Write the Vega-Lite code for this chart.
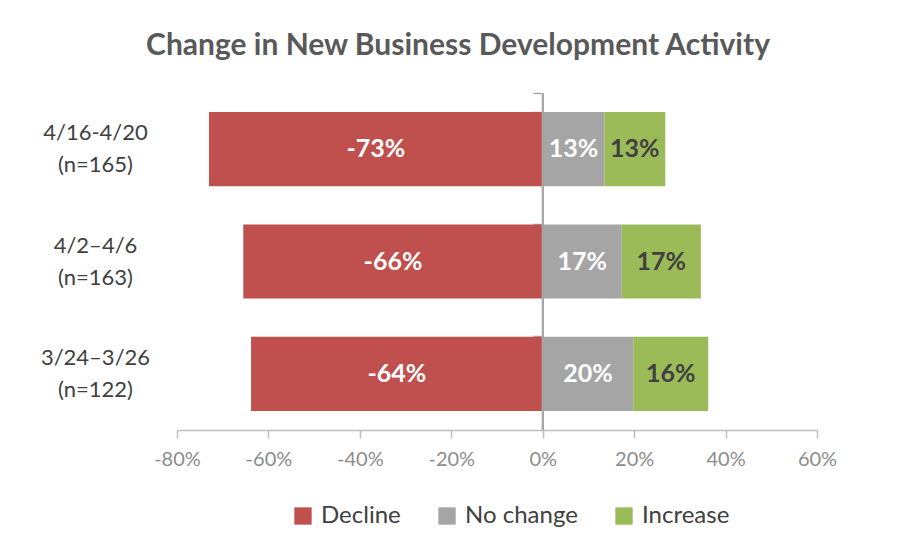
{
  "$schema": "https://vega.github.io/schema/vega-lite/v6.json",
  "autosize": "none",
  "width": 640,
  "height": 337,
  "padding": {"left": 177, "top": 93, "right": 83, "bottom": 120},
  "background": "white",
  "config": {"view": {"stroke": null}, "font": "Lato"},
  "title": {
    "text": "Change in New Business Development Activity",
    "font": "Lato",
    "fontSize": 30,
    "fontWeight": "bold",
    "color": "#595959",
    "anchor": "middle",
    "dx": -39,
    "offset": 31
  },
  "data": {
    "values": [
      {"period": "4/16-4/20|(n=165)", "category": "Decline", "value": -73, "ord": 1, "label": "-73%"},
      {"period": "4/16-4/20|(n=165)", "category": "No change", "value": 13.5, "ord": 2, "label": "13%"},
      {"period": "4/16-4/20|(n=165)", "category": "Increase", "value": 13.3, "ord": 3, "label": "13%"},
      {"period": "4/2–4/6|(n=163)", "category": "Decline", "value": -65.5, "ord": 1, "label": "-66%"},
      {"period": "4/2–4/6|(n=163)", "category": "No change", "value": 17.3, "ord": 2, "label": "17%"},
      {"period": "4/2–4/6|(n=163)", "category": "Increase", "value": 17.3, "ord": 3, "label": "17%"},
      {"period": "3/24–3/26|(n=122)", "category": "Decline", "value": -63.8, "ord": 1, "label": "-64%"},
      {"period": "3/24–3/26|(n=122)", "category": "No change", "value": 19.8, "ord": 2, "label": "20%"},
      {"period": "3/24–3/26|(n=122)", "category": "Increase", "value": 16.4, "ord": 3, "label": "16%"}
    ]
  },
  "resolve": {"axis": {"y": "independent"}},
  "layer": [
    {
      "mark": {"type": "bar"},
      "encoding": {
        "x": {
          "field": "value",
          "type": "quantitative",
          "stack": "zero",
          "scale": {"domain": [-80, 60], "nice": false},
          "title": null,
          "axis": {
            "values": [-80, -60, -40, -20, 0, 20, 40, 60],
            "labelExpr": "datum.value + '%'",
            "labelFlush": false,
            "grid": false,
            "domainColor": "#bfbfbf",
            "domainWidth": 1.5,
            "tickColor": "#bfbfbf",
            "tickWidth": 1.5,
            "tickSize": 8,
            "labelFontSize": 20,
            "labelColor": "#8c8c8c",
            "labelPadding": 11,
            "labelFont": "Lato"
          }
        },
        "y": {
          "field": "period",
          "type": "nominal",
          "sort": null,
          "title": null,
          "scale": {"paddingInner": 0.34, "paddingOuter": 0.17},
          "axis": {
            "orient": "left",
            "domain": false,
            "ticks": false,
            "labelExpr": "split(datum.label, '|')",
            "labelAlign": "center",
            "labelPadding": 82,
            "labelOffset": -16,
            "labelFontSize": 22,
            "labelLineHeight": 32,
            "labelColor": "#404040",
            "labelFont": "Lato"
          }
        },
        "color": {
          "field": "category",
          "type": "nominal",
          "sort": ["Decline", "No change", "Increase"],
          "scale": {"domain": ["Decline", "No change", "Increase"], "range": ["#C0504D", "#A5A5A5", "#9BBB59"]},
          "legend": {
            "title": null,
            "orient": "none",
            "legendX": 114,
            "legendY": 411,
            "direction": "horizontal",
            "symbolType": "square",
            "symbolSize": 300,
            "symbolStrokeWidth": 0,
            "labelFontSize": 24,
            "labelColor": "#404040",
            "labelFont": "Lato",
            "columnPadding": 34,
            "labelOffset": 6
          }
        },
        "order": {"field": "ord", "type": "quantitative"}
      }
    },
    {
      "mark": {"type": "tick", "opacity": 0},
      "encoding": {
        "y": {
          "field": "period",
          "type": "nominal",
          "sort": null,
          "title": null,
          "axis": {
            "orient": "left",
            "offset": -364,
            "labels": false,
            "domain": false,
            "ticks": true,
            "bandPosition": 0,
            "tickExtra": true,
            "tickSize": 8,
            "tickColor": "#a6a6a6",
            "tickWidth": 1.5
          }
        },
        "x": {"datum": 0, "type": "quantitative"}
      }
    },
    {
      "mark": {"type": "rule", "color": "#a6a6a6", "strokeWidth": 1.5},
      "encoding": {
        "x": {"datum": 0, "type": "quantitative"}
      }
    },
    {
      "mark": {"type": "text", "fontSize": 25, "fontWeight": "bold", "font": "Lato"},
      "encoding": {
        "x": {"field": "value", "type": "quantitative", "stack": "zero", "bandPosition": 0.5},
        "y": {"field": "period", "type": "nominal", "sort": null, "axis": null},
        "order": {"field": "ord", "type": "quantitative"},
        "detail": {"field": "category"},
        "text": {"field": "label"},
        "color": {
          "condition": {"test": "datum.category === 'Increase'", "value": "#404040"},
          "value": "white"
        }
      }
    }
  ]
}
